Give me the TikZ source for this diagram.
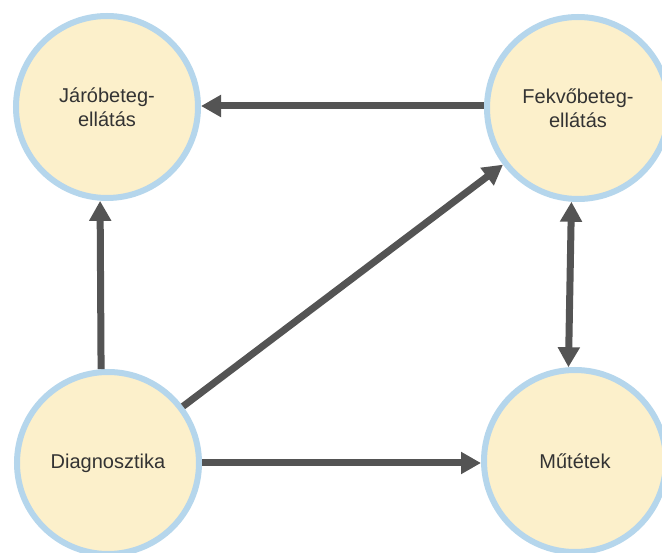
\documentclass[tikz,border=0pt]{standalone}
\usepackage{fontspec}
\setmainfont{Liberation Sans}
\usetikzlibrary{arrows.meta}
\definecolor{ringblue}{HTML}{B5D6EC}
\definecolor{cream}{HTML}{FCF0CB}
\definecolor{arrowgray}{HTML}{545454}
\definecolor{textgray}{HTML}{333333}
\tikzset{
  topic/.style={circle, draw=ringblue, fill=cream, line width=6pt,
    minimum size=182pt, inner sep=0pt, align=center, text=textgray,
    font=\fontsize{20}{23.5}\selectfont},
  link/.style={draw=arrowgray, line width=7pt,
    -{Triangle[width=21pt,length=20pt]}},
  duallink/.style={draw=arrowgray, line width=7pt,
    {Triangle[width=21pt,length=20pt]}-{Triangle[width=21pt,length=20pt]}}
}
\begin{document}
\begin{tikzpicture}[x=1pt,y=-1pt]
\useasboundingbox (0,0) rectangle (662,553);
\fill[white] (0,0) rectangle (662,553);
\begin{scope}
\clip (0,0) rectangle (662,553);
\node[topic] (jaro) at (107,107) {Járóbeteg-\\ellátás};
\node[topic] (fekvo) at (578,108) {Fekvőbeteg-\\ellátás};
\node[topic] (diag) at (108,463) {Diagnosztika};
\node[topic] (mutet) at (575,461) {Műtétek};
\end{scope}
\coordinate (topstart) at ([yshift=2pt]fekvo.west);
\draw[link] (topstart) -- (jaro.east |- topstart);
\draw[link] ([xshift=-2pt]diag.93) -- ([xshift=-2pt]jaro.267);
\draw[link] (diag) -- (fekvo);
\draw[link] (diag.east) -- (mutet.west |- diag.east);
\draw[duallink] (fekvo.266) -- (mutet.94);
\end{tikzpicture}
\end{document}
